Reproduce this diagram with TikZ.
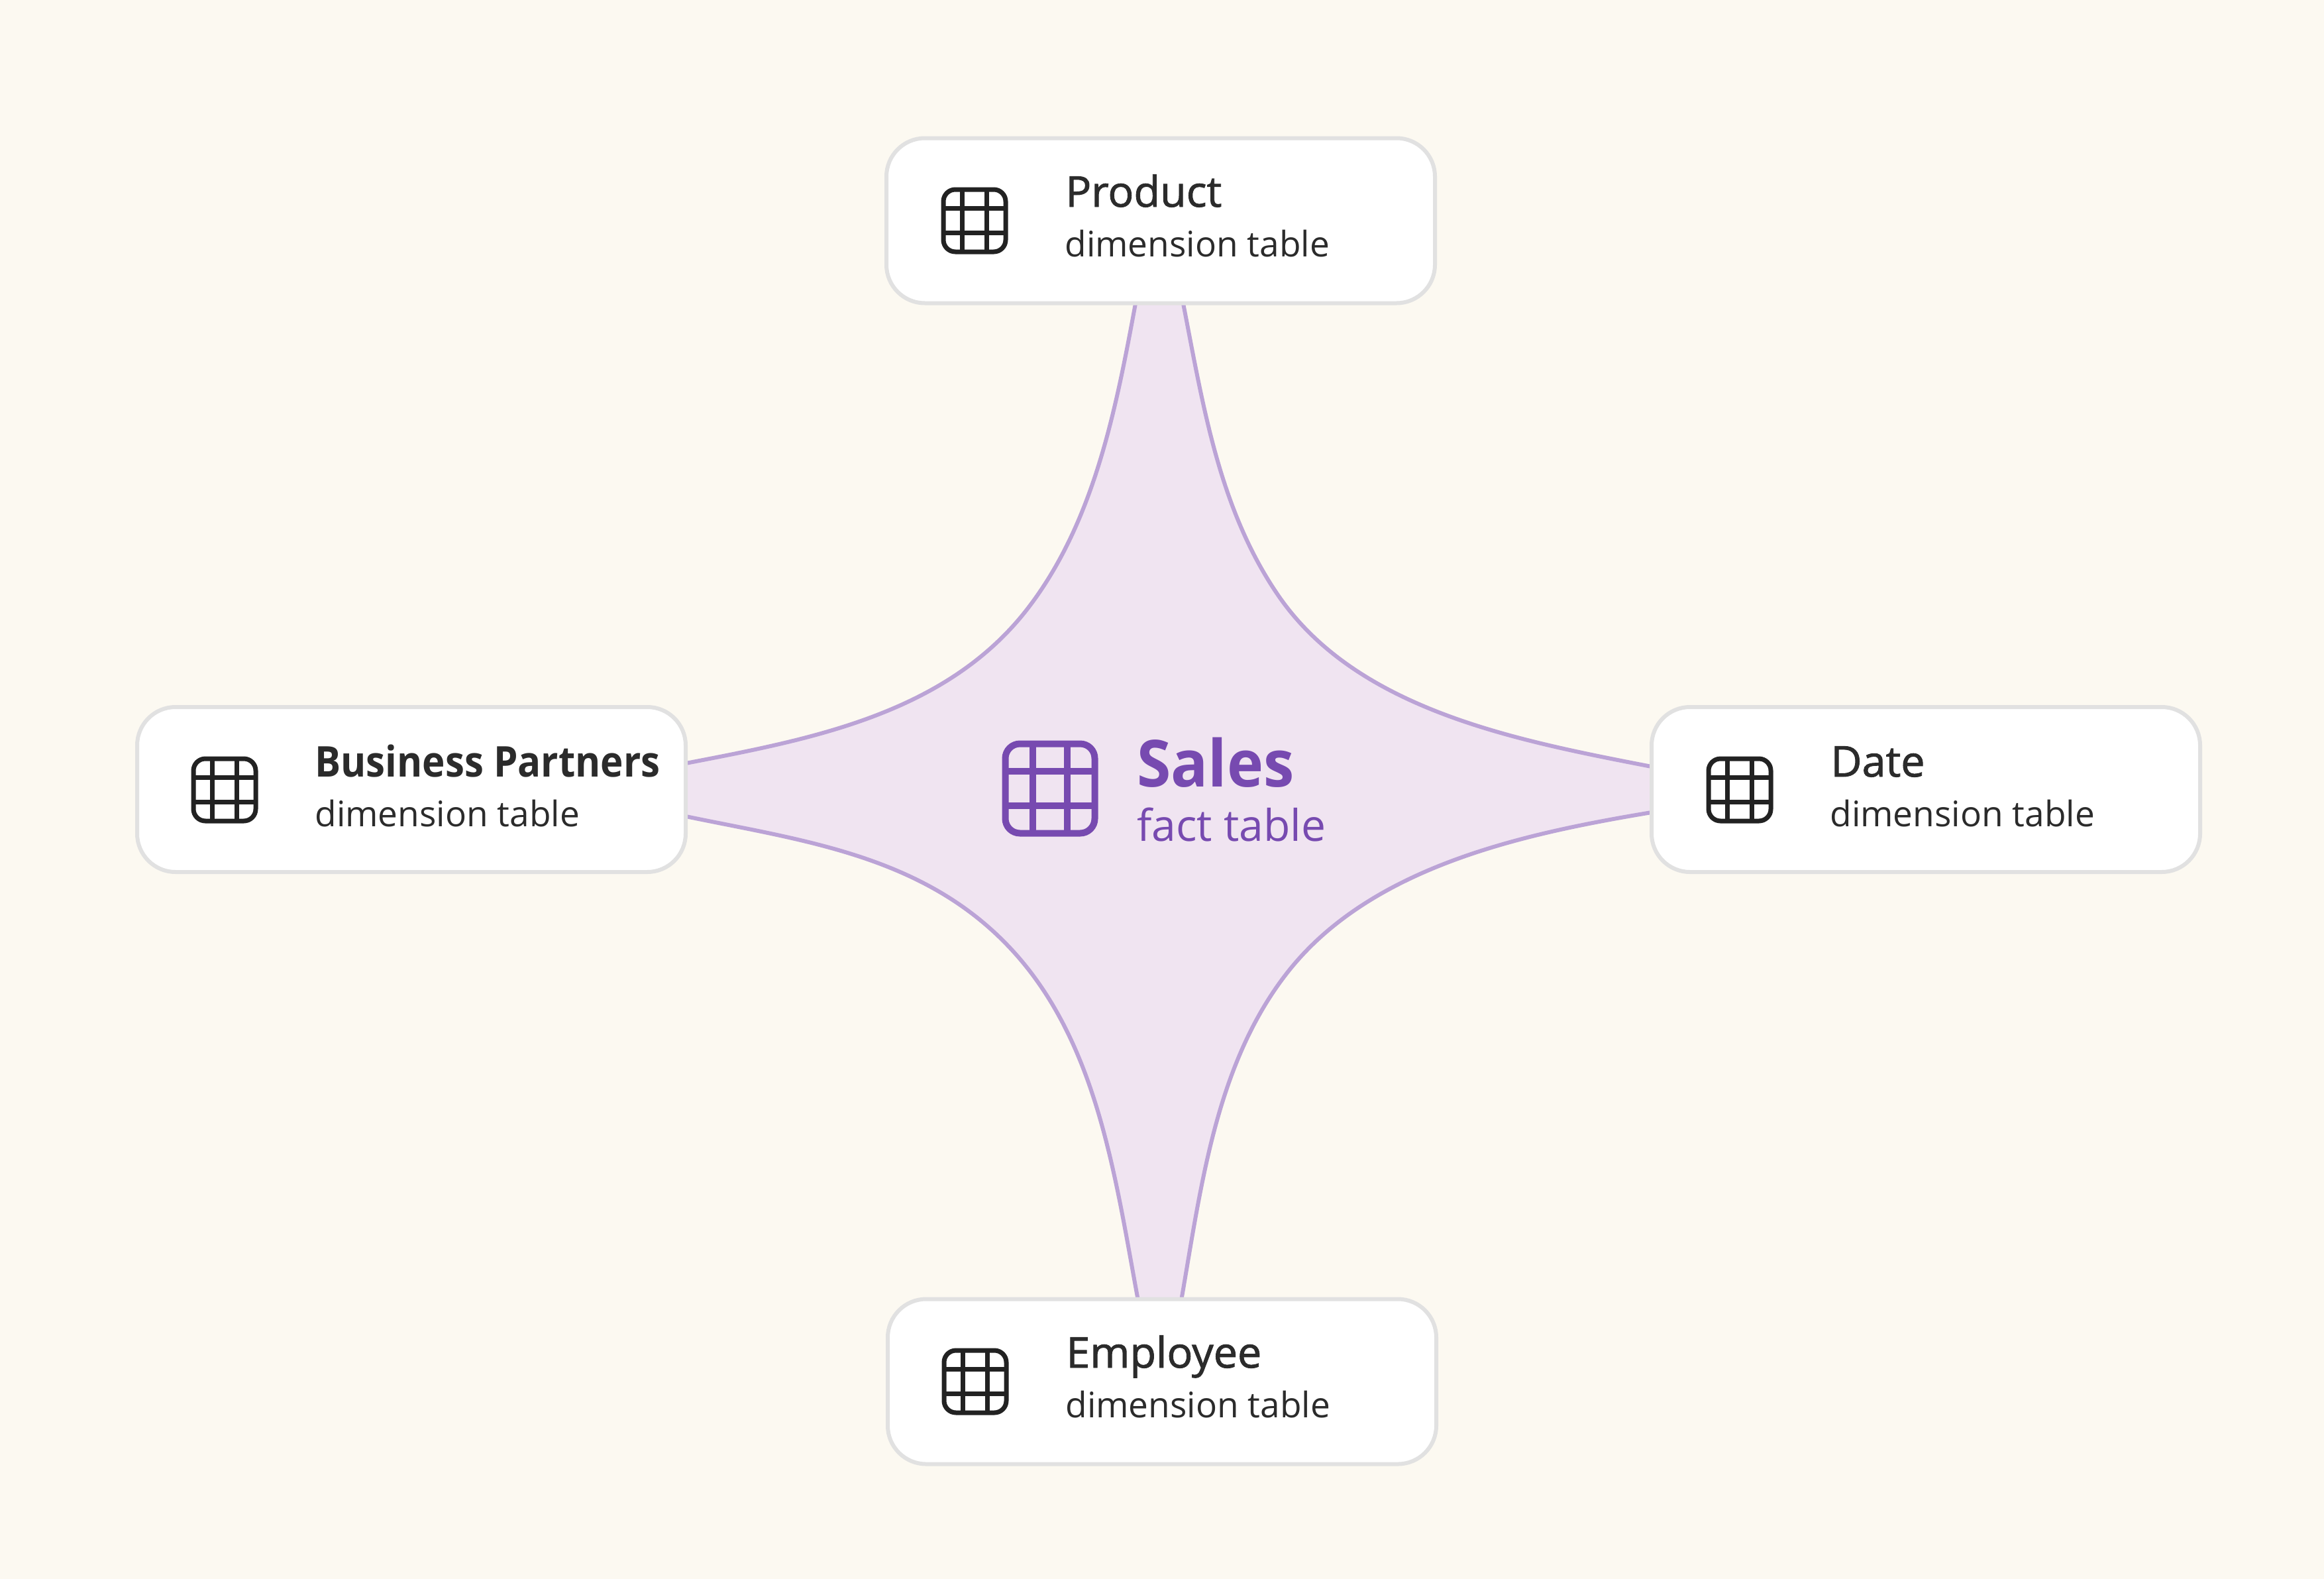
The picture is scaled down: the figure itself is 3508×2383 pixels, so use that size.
\documentclass[tikz,border=0pt]{standalone}
\usepackage{fontspec}
\setmainfont{Open Sans}
\newfontfamily\semifont[FakeBold=1.4,FakeStretch=1.01]{Open Sans}
\newfontfamily\boldnarrow[FakeStretch=0.91]{Open Sans}
\newfontfamily\salesfont[FakeStretch=0.95]{Open Sans}
\usetikzlibrary{calc}
\definecolor{bgc}{HTML}{FCF9F1}
\definecolor{starfill}{HTML}{F0E4F1}
\definecolor{staredge}{HTML}{BBA3D6}
\definecolor{boxedge}{HTML}{E1E1E1}
\definecolor{factc}{HTML}{774AB0}
\definecolor{inkc}{HTML}{2B2B2B}
\definecolor{iconc}{HTML}{222222}
\tikzset{
  x=0.5pt,y=-0.5pt,
  dimbox/.style={draw=boxedge,line width=3pt,fill=white,rounded corners=29pt,minimum width=414pt,minimum height=124.5pt,inner sep=0pt},
  titletext/.style={anchor=base west,inner sep=0pt,text=inkc,font=\fontsize{32}{36}\semifont},
  titlebold/.style={anchor=base west,inner sep=0pt,text=inkc,font=\fontsize{32}{36}\boldnarrow\bfseries},
  subtext/.style={anchor=base west,inner sep=0pt,text=inkc,font=\fontsize{26.6}{32}\selectfont},
  facttitle/.style={anchor=base west,inner sep=0pt,text=factc,font=\fontsize{49}{54}\salesfont\bfseries},
  factsub/.style={anchor=base west,inner sep=0pt,text=factc,font=\fontsize{33}{38}\selectfont},
  staredgeline/.style={draw=staredge,line width=3pt},
  pics/gridicon/.style n args={3}{code={
    % #1 half size, #2 inner offset, #3 corner radius
    \draw[rounded corners=#3] (-#1,-#1) rectangle (#1,#1);
    \draw (-#2,-#1) -- (-#2,#1) (#2,-#1) -- (#2,#1) (-#1,-#2) -- (#1,-#2) (-#1,#2) -- (#1,#2);
  }},
  smallicon/.style={draw=iconc,line width=3.5pt},
  bigicon/.style={draw=factc,line width=5pt},
}
\begin{document}
\begin{tikzpicture}
\useasboundingbox[fill=bgc] (0,0) rectangle (3508,2383);
\coordinate (pc) at (1752,333);
\coordinate (ec) at (1754,2085);
\coordinate (bc) at (621,1191.5);
\coordinate (dc) at (2907,1191.5);
% star outline ends, hidden under the boxes' edges
\coordinate (t1) at (1714,458);
\coordinate (t2) at (1786,458);
\coordinate (r1) at (2493,1157);
\coordinate (r2) at (2493,1226);
\coordinate (b2) at (1783,1963);
\coordinate (b1) at (1718,1963);
\coordinate (l2) at (1035,1232);
\coordinate (l1) at (1035,1152);
\def\edgeTL{(t1) .. controls (1684,620) and (1651,790) .. (1550,920) .. controls (1426,1079) and (1221,1116) .. (l1)}
\def\edgeBL{(l2) .. controls (1218,1270) and (1403,1292) .. (1535,1442) .. controls (1658,1582) and (1684,1780) .. (b1)}
\def\edgeBR{(b2) .. controls (1813,1791) and (1835,1606) .. (1943,1468) .. controls (2069,1307) and (2301,1258) .. (r2)}
\def\edgeTR{(r1) .. controls (2287,1117) and (2045,1071) .. (1927,895) .. controls (1840,766) and (1816,612) .. (t2)}
\fill[starfill] \edgeTL -- \edgeBL -- \edgeBR -- \edgeTR -- cycle;
\draw[staredgeline] \edgeTL;
\draw[staredgeline] \edgeBL;
\draw[staredgeline] \edgeBR;
\draw[staredgeline] \edgeTR;
% boxes
\node[dimbox] (product) at (pc) {};
\node[dimbox] (employee) at (ec) {};
\node[dimbox] (partners) at (bc) {};
\node[dimbox] (date) at (dc) {};
% icons
\pic[smallicon] at (1471,333) {gridicon={47}{18.5}{9pt}};
\pic[smallicon] at (1472,2085) {gridicon={47}{18.5}{9pt}};
\pic[smallicon] at (339,1192) {gridicon={47}{18.5}{9pt}};
\pic[smallicon] at (2626,1192) {gridicon={47}{18.5}{9pt}};
\pic[bigicon] at (1585,1190) {gridicon={67.5}{26}{11pt}};
% text
\node[titletext] (ptitle) at (1608,312) {Product};
\node[subtext] (psub) at (1607,387) {dimension table};
\node[titletext] (etitle) at (1609,2064) {Employee};
\node[subtext] (esub) at (1608,2139) {dimension table};
\node[titlebold] (btitle) at (475,1172) {Business Partners};
\node[subtext] (bsub) at (475,1247) {dimension table};
\node[titletext] (dtitle) at (2763,1172) {Date};
\node[subtext] (dsub) at (2762,1247) {dimension table};
\node[facttitle] (ftitle) at (1716,1187) {Sales};
\node[factsub] (fsub) at (1716,1269) {fact table};
\end{tikzpicture}
\end{document}
